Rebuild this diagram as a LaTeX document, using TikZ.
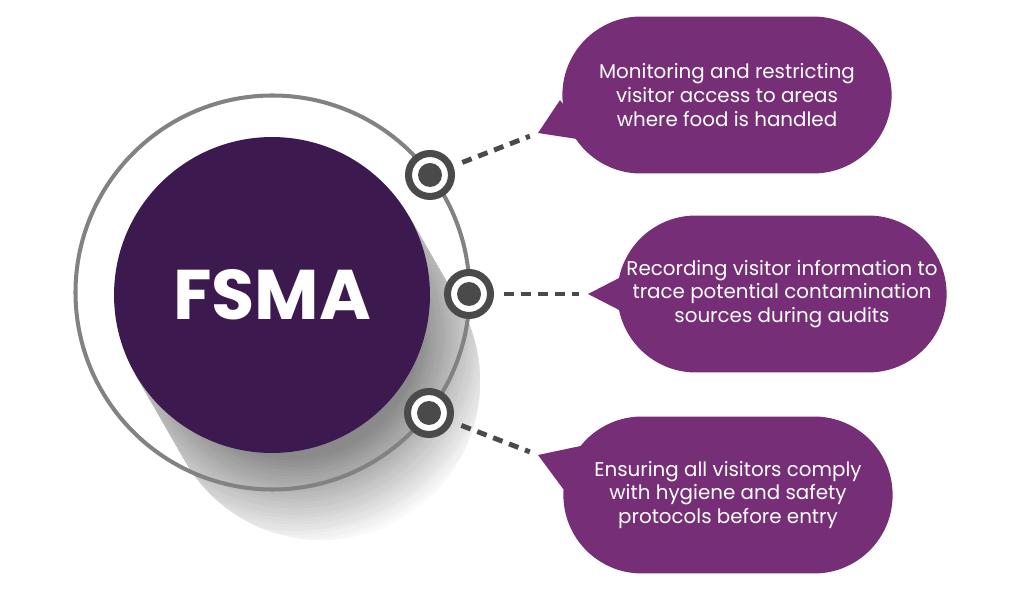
\documentclass[tikz,border=0pt]{standalone}
\usepackage{fontspec}
\setmainfont{Poppins}
\usepackage{tikz}
\usetikzlibrary{shapes.misc}
\definecolor{hubpurple}{HTML}{3C1A4F}
\definecolor{bubblepurple}{HTML}{762F76}
\definecolor{ringgray}{HTML}{828282}
\definecolor{markgray}{HTML}{4A4A4A}

\begin{document}
\begin{tikzpicture}[x=0.02cm,y=-0.02cm,
  bubble/.style={rounded rectangle,fill=bubblepurple,text=white,minimum width=6.82cm,minimum height=3.14cm,align=center,font=\fontsize{11.3}{13.6}\selectfont},
  marker/.style={circle,draw=markgray,line width=4pt,fill=white,minimum size=0.86cm,inner sep=0pt,path picture={\fill[markgray] (path picture bounding box.center) circle (12);}},
  dotline/.style={draw=markgray,line width=2.8pt,dash pattern=on 5.7pt off 4pt,shorten <=5.5pt,shorten >=5pt}]
  \useasboundingbox (0,0) rectangle (1024,597);
  \begin{scope}
    \clip (408.8,216) -- (458.8,303) arc[start angle=-30,end angle=150,radius=158] -- (135.2,374) -- cycle;
    \foreach \i [evaluate=\i as \r using 215-3.2*\i, evaluate=\i as \g using {int(round(1.6*\i))}] in {0,...,29}
      \fill[black!\g] (295,335) circle (\r);
  \end{scope}
  \draw[ringgray,line width=2.3pt] (272.5,292.5) circle (197);
  \node[marker] (m1) at (430,175) {};
  \node[marker] (m2) at (469,294) {};
  \node[marker] (m3) at (429,413) {};
  \node[circle,fill=hubpurple,minimum size=6.32cm,inner sep=0pt,text=white,font=\fontsize{40}{48}\selectfont\bfseries] (fsma) at (272,295) {FSMA};
  \node[bubble] (b1) at (727,95) {Monitoring and restricting\\visitor access to areas\\where food is handled};
  \node[bubble] (b2) at (782,294) {Recording visitor information to\\trace potential contamination\\sources during audits};
  \node[bubble] (b3) at (728,495) {Ensuring all visitors comply\\with hygiene and safety\\protocols before entry};
  \coordinate (t1) at (538,133);
  \coordinate (t2) at (588,294);
  \coordinate (t3) at (538,455);
  \fill[bubblepurple] (t1) -- (560,100) -- (590,141) -- cycle;
  \fill[bubblepurple] (t2) -- (625,275) -- (625,313) -- cycle;
  \fill[bubblepurple] (t3) -- (590,444) -- (575,505) -- cycle;
  \draw[dotline] (m1) -- (t1);
  \draw[dotline] (m2) -- (t2);
  \draw[dotline] (m3) -- (t3);
\end{tikzpicture}
\end{document}
